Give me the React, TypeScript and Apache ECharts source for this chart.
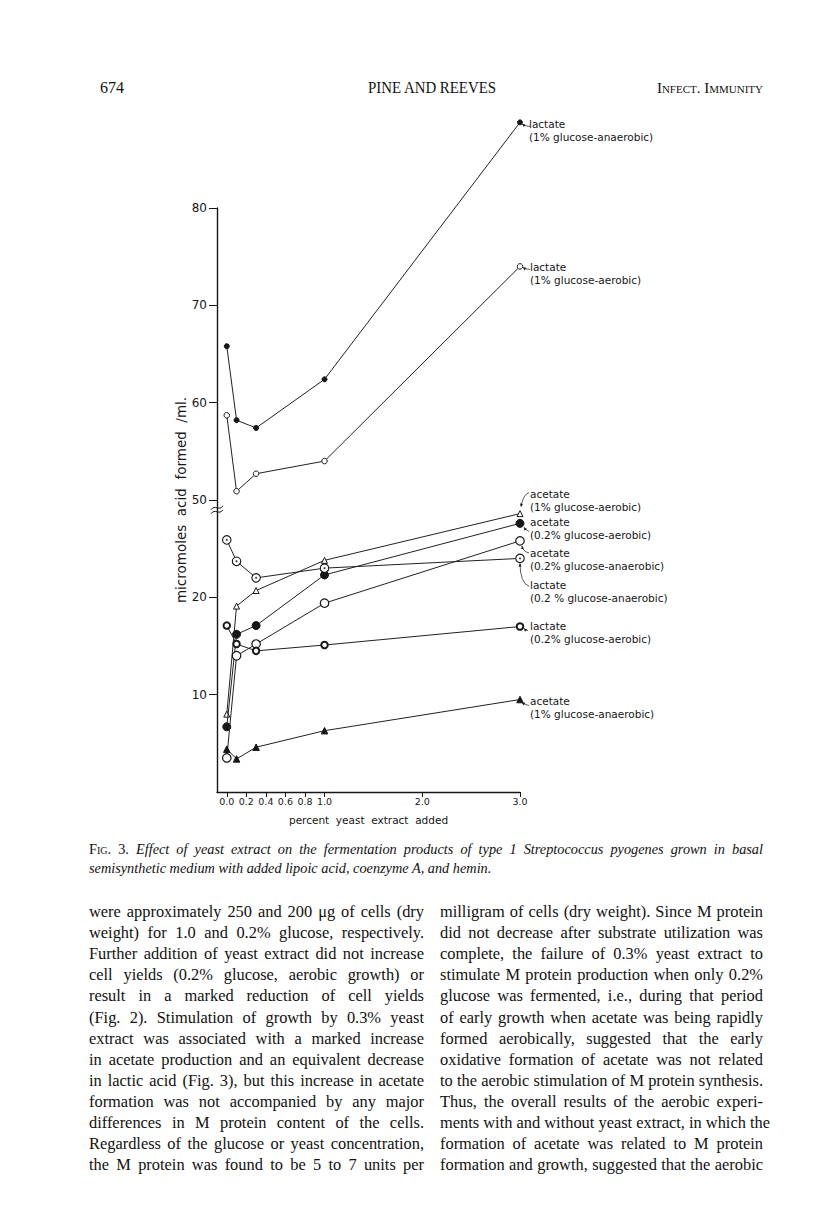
import React, { useEffect, useRef } from "react";
import * as echarts from "echarts";

// ---- data ----
const xValues = [0, 0.1, 0.3, 1.0, 3.0];
const lactate1Anaerobic = [65.8, 58.2, 57.4, 62.4, 88.8];
const lactate1Aerobic = [58.7, 50.9, 52.7, 54.0, 74.0];
const acetate1Aerobic = [8.0, 19.1, 20.7, 23.8, 28.6];
const acetate02Aerobic = [6.7, 16.2, 17.1, 22.3, 27.6];
const acetate02Anaerobic = [3.5, 14.0, 15.2, 19.4, 25.8];
const lactate02Anaerobic = [25.9, 23.7, 22.0, 23.0, 24.0];
const lactate02Aerobic = [17.1, 15.2, 14.5, 15.1, 17.0];
const acetate1Anaerobic = [4.4, 3.4, 4.6, 6.3, 9.5];

const xTickValues = [0, 0.2, 0.4, 0.6, 0.8, 1.0, 2.0, 3.0];
const yTickLabels = [10, 20, 50, 60, 70, 80];

// broken y axis: values >= 40 are shifted down by 20 (50 sits where 30 would be)
const BREAK_SHIFT = 20;
const toAxis = (v: number) => (v >= 40 ? v - BREAK_SHIFT : v);
const fromAxis = (d: number) => (d >= 30 ? d + BREAK_SHIFT : d);

const FONT = '"DejaVu Sans", Verdana, sans-serif';
const INK = "#161616";

type Def = {
  name: string;
  values: number[];
  symbol: string;
  size: number;
  fill: string;
  border: number;
  innerDot?: boolean;
  label: string;
  off: [number, number];
  arrow: [number, number, number, number, number, number];
};

const defs: Def[] = [
  { name: "lactate (1% glucose-anaerobic)", values: lactate1Anaerobic, symbol: "circle", size: 5, fill: INK, border: 1,
    label: "lactate\n(1% glucose-anaerobic)", off: [9, -5], arrow: [10, 4, 6, 4, 2, 2] },
  { name: "lactate (1% glucose-aerobic)", values: lactate1Aerobic, symbol: "circle", size: 5.5, fill: "#fff", border: 1,
    label: "lactate\n(1% glucose-aerobic)", off: [10, -6], arrow: [10, 3, 6, 3, 3, 1] },
  { name: "acetate (1% glucose-aerobic)", values: acetate1Aerobic, symbol: "triangle", size: 6, fill: "#fff", border: 1,
    label: "acetate\n(1% glucose-aerobic)", off: [10, -26], arrow: [9, -21, 3, -19, 1, -7] },
  { name: "acetate (0.2% glucose-aerobic)", values: acetate02Aerobic, symbol: "circle", size: 8, fill: INK, border: 1,
    label: "acetate\n(0.2% glucose-aerobic)", off: [10, -8], arrow: [9, 8, 6, 7, 4, 4] },
  { name: "acetate (0.2% glucose-anaerobic)", values: acetate02Anaerobic, symbol: "circle", size: 8.5, fill: "#fff", border: 1.2,
    label: "acetate\n(0.2% glucose-anaerobic)", off: [10, 6], arrow: [9, 12, 3, 11, 2, 5] },
  { name: "lactate (0.2% glucose-anaerobic)", values: lactate02Anaerobic, symbol: "circle", size: 8.5, fill: "#fff", border: 1.1, innerDot: true,
    label: "lactate\n(0.2 % glucose-anaerobic)", off: [10, 20], arrow: [9, 28, 0, 24, 0, 5] },
  { name: "lactate (0.2% glucose-aerobic)", values: lactate02Aerobic, symbol: "circle", size: 6.5, fill: "#fff", border: 2,
    label: "lactate\n(0.2% glucose-aerobic)", off: [10, -7], arrow: [8, 4, 6, 4, 4, 2] },
  { name: "acetate (1% glucose-anaerobic)", values: acetate1Anaerobic, symbol: "triangle", size: 6.5, fill: INK, border: 1,
    label: "acetate\n(1% glucose-anaerobic)", off: [10, -5], arrow: [9, 6, 5, 5, 2, 3] },
];

const leftCol = [
  "were approximately 250 and 200 \u03bcg of cells (dry",
  "weight) for 1.0 and 0.2% glucose, respectively.",
  "Further addition of yeast extract did not increase",
  "cell yields (0.2% glucose, aerobic growth) or",
  "result in a marked reduction of cell yields",
  "(Fig. 2). Stimulation of growth by 0.3% yeast",
  "extract was associated with a marked increase",
  "in acetate production and an equivalent decrease",
  "in lactic acid (Fig. 3), but this increase in acetate",
  "formation was not accompanied by any major",
  "differences in M protein content of the cells.",
  "Regardless of the glucose or yeast concentration,",
  "the M protein was found to be 5 to 7 units per",
];
const rightCol = [
  "milligram of cells (dry weight). Since M protein",
  "did not decrease after substrate utilization was",
  "complete, the failure of 0.3% yeast extract to",
  "stimulate M protein production when only 0.2%",
  "glucose was fermented, i.e., during that period",
  "of early growth when acetate was being rapidly",
  "formed aerobically, suggested that the early",
  "oxidative formation of acetate was not related",
  "to the aerobic stimulation of M protein synthesis.",
  "Thus, the overall results of the aerobic experi-",
  "ments with and without yeast extract, in which the",
  "formation of acetate was related to M protein",
  "formation and growth, suggested that the aerobic",
];

function Chart() {
  const ref = useRef<HTMLDivElement>(null);
  useEffect(() => {
    const el = ref.current!;
    const chart = echarts.init(el, null, { renderer: "svg" });
    const yTickAxis = yTickLabels.map(toAxis);
    const series: any[] = [];
    defs.forEach((d, i) => {
      const data = xValues.map((x, k) => [x, toAxis(d.values[k])]);
      series.push({
        name: d.name,
        type: "line",
        data,
        symbol: d.symbol,
        symbolSize: d.size,
        showAllSymbol: true,
        clip: false,
        z: 2 + i * 0.01,
        lineStyle: { color: "#222", width: 1 },
        itemStyle: { color: d.fill, borderColor: INK, borderWidth: d.border, opacity: 1 },
        emphasis: { disabled: true },
      });
      if (d.innerDot) {
        series.push({
          name: d.name + " centre",
          type: "scatter",
          data,
          symbol: "circle",
          symbolSize: 2.2,
          clip: false,
          z: 3,
          itemStyle: { color: INK },
          emphasis: { disabled: true },
        });
      }
    });

    chart.setOption({
      animation: false,
      textStyle: { fontFamily: FONT, color: INK },
      grid: { left: 217, right: 296, top: 208, bottom: 48, containLabel: false },
      xAxis: {
        type: "value",
        min: -0.1,
        max: 3.0,
        axisLine: { show: true, onZero: false, lineStyle: { color: INK, width: 1.4 } },
        axisTick: { show: true, customValues: xTickValues, length: 5, lineStyle: { color: INK, width: 1 } },
        axisLabel: {
          show: true,
          customValues: xTickValues,
          formatter: (v: number) => v.toFixed(1),
          fontSize: 9.5,
          margin: 4,
          color: INK,
          fontFamily: FONT,
        },
        splitLine: { show: false },
        name: "percent  yeast  extract  added",
        nameLocation: "middle",
        nameGap: 22,
        nameTextStyle: { fontSize: 10.5, color: INK, fontFamily: FONT },
      },
      yAxis: {
        type: "value",
        min: 0,
        max: 60,
        axisLine: { show: true, onZero: false, lineStyle: { color: INK, width: 1.4 } },
        axisTick: { show: true, customValues: yTickAxis, length: 8, lineStyle: { color: INK, width: 1 } },
        axisLabel: {
          show: true,
          customValues: yTickAxis,
          formatter: (v: number) => String(fromAxis(v)),
          fontSize: 12,
          margin: 10,
          color: INK,
          fontFamily: FONT,
        },
        splitLine: { show: false },
        name: "micromoles  acid  formed  /ml.",
        nameLocation: "middle",
        nameGap: 29,
        nameTextStyle: { fontSize: 13.5, color: INK, fontFamily: FONT },
      },
      series,
    });

    // series labels + leader arrows at the last points, and the axis break mark
    const graphics: any[] = [];
    const last = xValues.length - 1;
    defs.forEach((d) => {
      const [px, py] = chart.convertToPixel({ xAxisIndex: 0, yAxisIndex: 0 }, [xValues[last], toAxis(d.values[last])]) as number[];
      graphics.push({
        type: "text",
        x: px + d.off[0],
        y: py + d.off[1],
        z: 10,
        style: { text: d.label, fontSize: 10.5, fontFamily: FONT, fill: INK, lineHeight: 13, verticalAlign: "top", align: "left" },
      });
      const [sx, sy, cx, cy, ex, ey] = d.arrow;
      graphics.push({
        type: "bezierCurve",
        z: 10,
        shape: { x1: px + sx, y1: py + sy, cpx1: px + cx, cpy1: py + cy, x2: px + ex, y2: py + ey },
        style: { stroke: INK, lineWidth: 0.7, fill: "none" },
      });
      const ang = Math.atan2(ey - cy, ex - cx);
      const L = 3, W = 1.6;
      const tx = px + ex, ty = py + ey;
      const bx = tx - L * Math.cos(ang), by = ty - L * Math.sin(ang);
      graphics.push({
        type: "polygon",
        z: 10,
        shape: { points: [[tx, ty], [bx - W * Math.sin(ang), by + W * Math.cos(ang)], [bx + W * Math.sin(ang), by - W * Math.cos(ang)]] },
        style: { fill: INK },
      });
    });
    const [ax, byy] = chart.convertToPixel({ xAxisIndex: 0, yAxisIndex: 0 }, [-0.1, 29.2]) as number[];
    [0, 4].forEach((o) => {
      graphics.push({
        type: "bezierCurve",
        z: 11,
        shape: { x1: ax - 6, y1: byy + o + 2, cpx1: ax - 2, cpy1: byy + o - 4, cpx2: ax + 2, cpy2: byy + o + 4, x2: ax + 6, y2: byy + o - 2 },
        style: { stroke: INK, lineWidth: 1, fill: "none" },
      });
    });
    chart.setOption({ graphic: graphics });
    return () => chart.dispose();
  }, []);
  return <div ref={ref} style={{ position: "absolute", left: 0, top: 0, width: 816, height: 840 }} />;
}

const serif = '"Liberation Serif", "Times New Roman", serif';

export default function App() {
  const lineStyle = (top: number, left: number, width: number): React.CSSProperties => ({
    position: "absolute",
    top,
    left,
    width,
    whiteSpace: "nowrap",
    textAlign: "justify",
    textAlignLast: "justify",
    fontFamily: serif,
    fontSize: 16.4,
    lineHeight: "20px",
    color: "#111",
  });
  return (
    <div style={{ position: "absolute", left: 0, top: 0, width: 816, height: 1228, background: "#fff", overflow: "hidden" }}>
      <div style={{ position: "absolute", left: 100, top: 79, fontFamily: serif, fontSize: 16, lineHeight: "18px", color: "#111" }}>674</div>
      <div style={{ position: "absolute", left: 300, width: 264, top: 79, textAlign: "center", fontFamily: serif, fontSize: 16, lineHeight: "18px", color: "#111", transform: "scaleX(0.93)" }}>PINE AND REEVES</div>
      <div style={{ position: "absolute", right: 816 - 763, top: 79, fontFamily: serif, fontSize: 15, lineHeight: "18px", fontVariant: "small-caps", color: "#111" }}>Infect. Immunity</div>
      <Chart />
      <div style={{ position: "absolute", left: 89, width: 674, top: 840, whiteSpace: "nowrap", textAlign: "justify", textAlignLast: "justify", fontFamily: serif, fontSize: 14.3, lineHeight: "18px", color: "#111" }}>
        <span style={{ fontVariant: "small-caps" }}>Fig. 3.</span>{" "}
        <i>Effect of yeast extract on the fermentation products of type 1 Streptococcus pyogenes grown in basal</i>
      </div>
      <div style={{ position: "absolute", left: 89, top: 859, whiteSpace: "nowrap", fontFamily: serif, fontSize: 14.3, lineHeight: "18px", color: "#111" }}>
        <i>semisynthetic medium with added lipoic acid, coenzyme A, and hemin.</i>
      </div>
      {leftCol.map((t, i) => (
        <div key={"l" + i} style={lineStyle(902 + i * 21.1, 89, 335)}>{t}</div>
      ))}
      {rightCol.map((t, i) => (
        <div key={"r" + i} style={lineStyle(902 + i * 21.1, 440, 323)}>{t}</div>
      ))}
    </div>
  );
}
